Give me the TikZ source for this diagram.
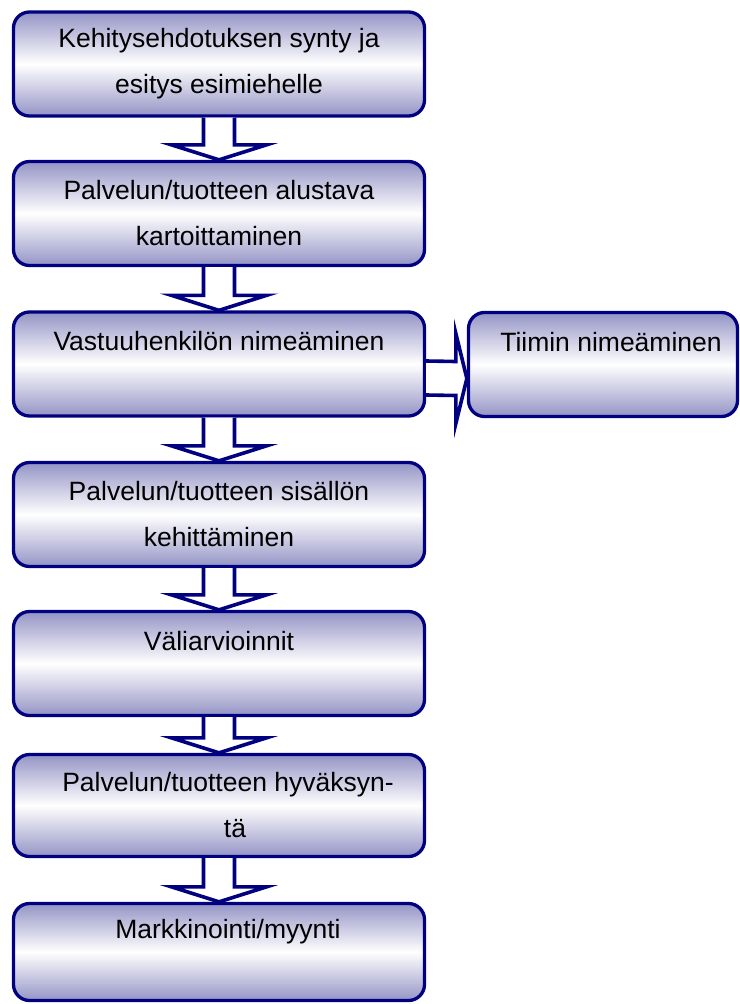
\documentclass[tikz,border=0pt]{standalone}
\usepackage{fontspec}
\setmainfont{Liberation Sans}
\usetikzlibrary{calc}
\definecolor{boxnavy}{RGB}{0,0,128}
\definecolor{boxlilac}{RGB}{148,148,198}
\tikzstyle{stepbox} = [rectangle, rounded corners=16pt, draw=boxnavy, line width=3.3pt, top color=boxlilac, bottom color=boxlilac, middle color=white, minimum width=411pt, minimum height=104pt, inner sep=0pt, align=center, font=\fontsize{26.5}{46}\selectfont]
\tikzstyle{blockarrow} = [draw=boxnavy, line width=3.6pt, fill=white]
% hollow block arrow from the bottom of one box to the top of the next
\newcommand{\downflow}[2]{%
  \draw[blockarrow] ($(#1.south)+(-15.5,0)$) -- ($(#2.north)+(-15.5,15)$) -- ($(#2.north)+(-47.5,15)$)
    -- (#2.north) -- ($(#2.north)+(47.5,15)$) -- ($(#2.north)+(15.5,15)$) -- ($(#1.south)+(15.5,0)$);}

\begin{document}
\begin{tikzpicture}[x=1pt, y=1pt]
\useasboundingbox (0,0) rectangle (739,-1004);
\node[stepbox] (ehdotus) at (219,-64) {Kehitysehdotuksen synty ja\\esitys esimiehelle};
\node[stepbox] (kartoitus) at (219,-213.5) {Palvelun/tuotteen alustava\\kartoittaminen};
\node[stepbox] (vastuu) at (219,-364) {Vastuuhenkilön nimeäminen\\\mbox{}};
\node[stepbox, minimum width=269pt] (tiimi) at (603,-364.5) {\hspace*{16pt}Tiimin nimeäminen\\\mbox{}};
\node[stepbox] (sisalto) at (219,-514.5) {Palvelun/tuotteen sisällön\\kehittäminen};
\node[stepbox] (arviointi) at (219,-663.5) {Väliarvioinnit\\\mbox{}};
\node[stepbox, minimum height=102pt] (hyvaksynta) at (219,-805.5) {\hspace*{18pt}Palvelun/tuotteen hyväksyn-\\\hspace*{32pt}tä};
\node[stepbox, minimum height=97pt] (markkinointi) at (219,-952) {\hspace*{18pt}Markkinointi/myynti\\\mbox{}};

\downflow{ehdotus}{kartoitus}
\downflow{kartoitus}{vastuu}
\downflow{vastuu}{sisalto}
\downflow{sisalto}{arviointi}
\downflow{arviointi}{hyvaksynta}
\downflow{hyvaksynta}{markkinointi}
% side arrow to the team box
\draw[blockarrow] ($(vastuu.east)+(0,3)$) -- ($(tiimi.west)+(-11,3)$) -- ($(tiimi.west)+(-11,31)$)
  -- ($(tiimi.west)+(0,-14)$) -- ($(tiimi.west)+(-11,-59)$) -- ($(tiimi.west)+(-11,-31)$) -- ($(vastuu.east)+(0,-31)$);
\end{tikzpicture}
\end{document}
